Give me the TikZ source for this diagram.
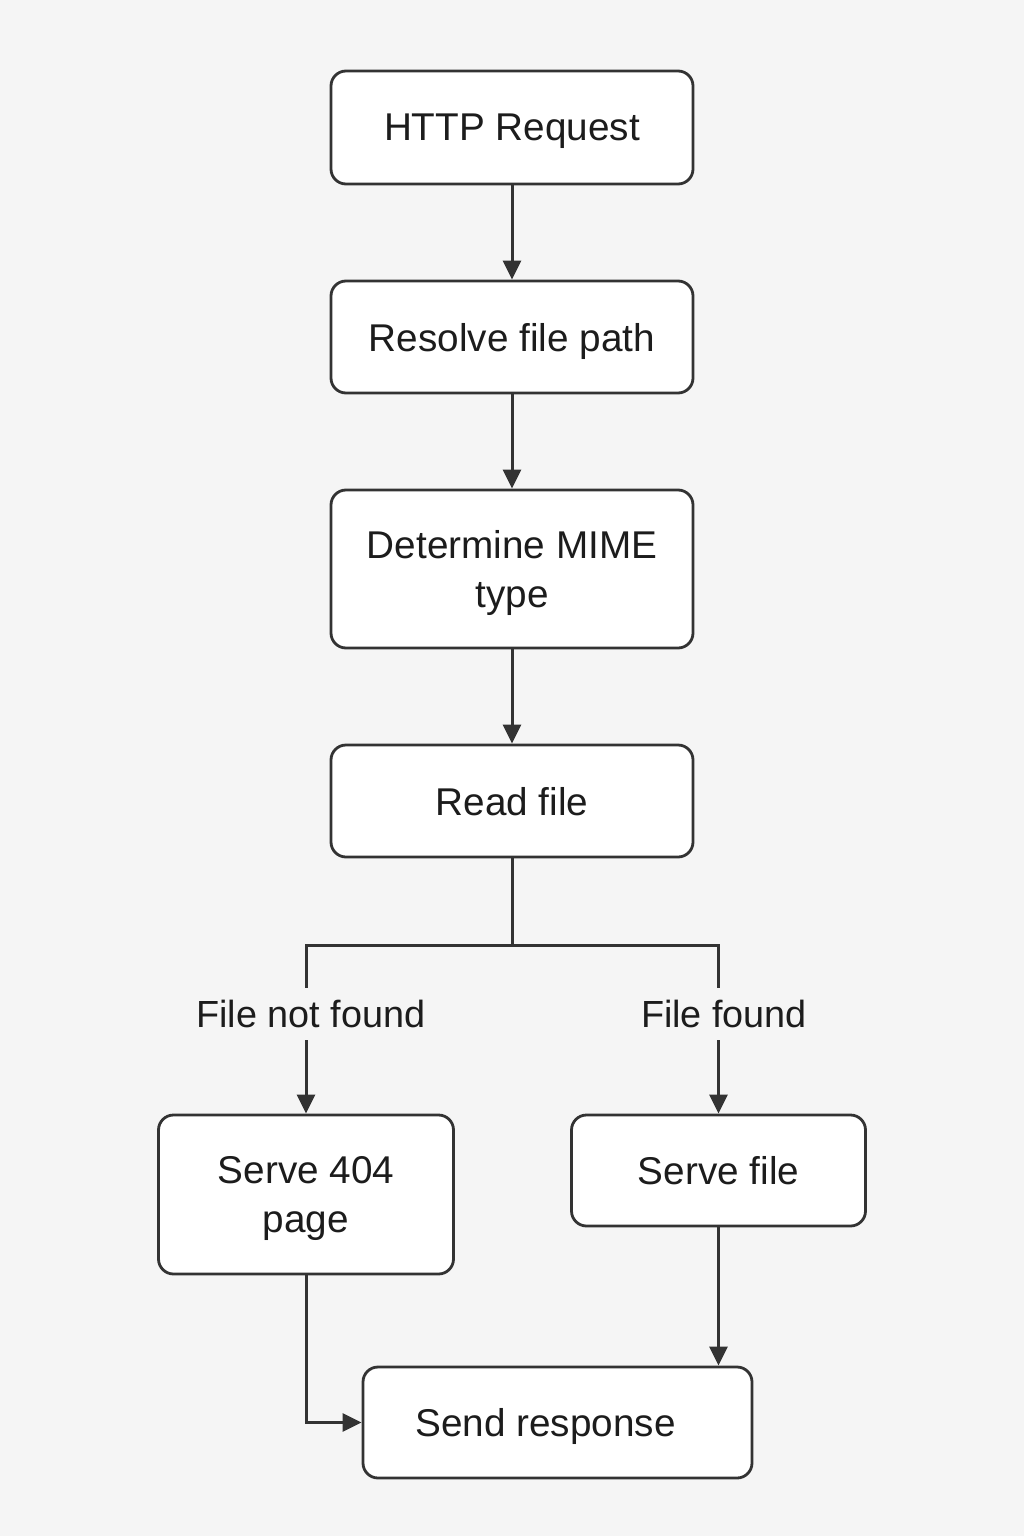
\documentclass[tikz,border=0pt]{standalone}
\usepackage{fontspec}
\setmainfont{Liberation Sans}
\usetikzlibrary{arrows.meta}
\definecolor{bg}{HTML}{F5F5F5}
\definecolor{ln}{HTML}{333333}
\definecolor{tx}{HTML}{1C1C1C}
\tikzset{
  box/.style={draw=ln, line width=2.8pt, fill=white, rounded corners=15pt, align=center,
    text=tx, font=\fontsize{38.7}{48.5}\selectfont, inner sep=0pt, text depth=0pt},
  lab/.style={fill=bg, text=tx, font=\fontsize{37.8}{44}\selectfont, inner xsep=4pt, inner ysep=12pt},
  line/.style={draw=ln, line width=3pt},
  arr/.style={line, -{Triangle[length=19pt,width=18pt]}}
}
\begin{document}
\begin{tikzpicture}[x=1pt,y=-1pt]
\fill[bg] (0,0) rectangle (1024,1536);
\useasboundingbox (0,0) rectangle (1024,1536);

\node[box, minimum width=362pt, minimum height=113pt] (http) at (512,127.5) {HTTP Request};
\node[box, minimum width=362pt, minimum height=112pt] (resolve) at (512,337) {Resolve file path};
\node[box, minimum width=362pt, minimum height=158pt] (mime) at (512,569) {Determine MIME\\type};
\node[box, minimum width=362pt, minimum height=112pt] (read) at (512,801) {Read file};
\node[box, minimum width=295pt, minimum height=159pt] (s404) at (306,1194.5) {Serve 404\\page};
\node[box, minimum width=294pt, minimum height=111pt] (sfile) at (718.5,1170.5) {Serve file};
\node[box, minimum width=389pt, minimum height=111pt] (send) at (557.5,1422.5) {Send response\hspace*{24pt}};

\node[lab] (lnf) at (311,1014) {File not found};
\node[lab] (lf) at (724,1014) {File found};

\coordinate (j) at (512,945);
\coordinate (jl) at (306,945);
\coordinate (jr) at (718.5,945);

\draw[arr] (http) -- (resolve);
\draw[arr] (resolve) -- (mime);
\draw[arr] (mime) -- (read);
\draw[line] (read.south) -- (j);
\draw[line, line cap=rect] (jl) -- (jr);
\draw[line] (jl) -- (jl |- lnf.north);
\draw[arr] (jl |- lnf.south) -- (s404.north);
\draw[line] (jr) -- (jr |- lf.north);
\draw[arr] (jr |- lf.south) -- (sfile.north);
\draw[arr] (s404.south) |- (send.west);
\draw[arr] (sfile.south) -- (sfile.south |- send.north);
\end{tikzpicture}
\end{document}
